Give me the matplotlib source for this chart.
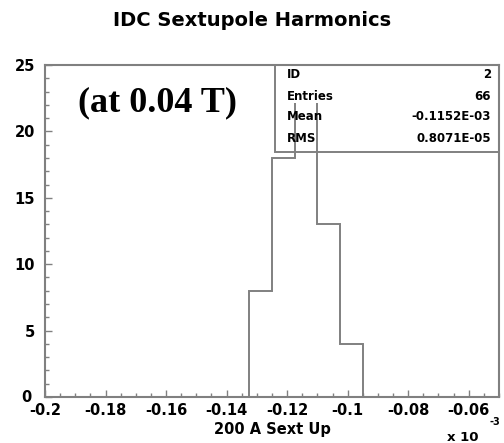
import matplotlib
matplotlib.use('Agg')
import matplotlib.pyplot as plt
import matplotlib.transforms as mtransforms
import numpy as np
from matplotlib.patches import Rectangle

# histogram data (x in units of 1e-3)
bin_edges = [-0.1325, -0.125, -0.1175, -0.11, -0.1025, -0.095]
counts = [8, 18, 23, 13, 4]

x_ticks = [-0.2, -0.18, -0.16, -0.14, -0.12, -0.1, -0.08, -0.06]
x_tick_labels = ['-0.2', '-0.18', '-0.16', '-0.14', '-0.12', '-0.1', '-0.08', '-0.06']
y_ticks = [0, 5, 10, 15, 20, 25]
y_tick_labels = ['0', '5', '10', '15', '20', '25']

stats_names = ['ID', 'Entries', 'Mean', 'RMS']
stats_values = ['2', '66', '-0.1152E-03', '0.8071E-05']

plt.rcParams['font.family'] = ['DejaVu Sans']
line_col = '#808080'

fig = plt.figure(figsize=(5.04, 4.43), dpi=100)
ax = fig.add_axes([45 / 504, 46 / 443, 454 / 504, 332 / 443])

ax.stairs(counts, bin_edges, color=line_col, linewidth=1.4)

ax.set_xlim(-0.2, -0.05)
ax.set_ylim(0, 25)
ax.set_xticks(x_ticks)
ax.set_xticklabels(x_tick_labels)
ax.set_yticks(y_ticks)
ax.set_yticklabels(y_tick_labels)
ax.set_xticks(np.arange(-0.2, -0.049, 0.005), minor=True)
ax.set_yticks(np.arange(0, 25.1, 1), minor=True)
ax.tick_params(which='both', direction='in', top=False, right=False,
               color=line_col, labelsize=10.5)
ax.tick_params(which='major', length=5, width=1)
ax.tick_params(which='minor', length=3, width=1)
ax.tick_params(axis='x', pad=4.5)
ax.tick_params(axis='y', pad=7)
for lab in ax.get_xticklabels() + ax.get_yticklabels():
    lab.set_fontweight('bold')
# the "0" of the y axis sits a little further left
zero_lab = ax.get_yticklabels()[0]
zero_lab.set_transform(zero_lab.get_transform() +
                       mtransforms.ScaledTranslation(-4 / 100, 1 / 100, fig.dpi_scale_trans))
for s in ax.spines.values():
    s.set_color(line_col)
    s.set_linewidth(1.5)

ax.set_xlabel('200 A Sext Up', fontsize=10.5, fontweight='bold', labelpad=3)
fig.text(447 / 504, 1 - 431 / 443, 'x 10', fontsize=9.5, fontweight='bold',
         ha='left', va='top')
fig.text(489 / 504, 1 - 422 / 443, '-3', fontsize=7, fontweight='bold',
         ha='left', va='center')

fig.text(0.5, 1 - 21 / 443, 'IDC Sextupole Harmonics', fontsize=14,
         fontweight='bold', ha='center', va='center')

ax.text(0.073, 0.885, '(at 0.04 T)', transform=ax.transAxes, fontsize=26,
        fontweight='bold', family=['Liberation Serif', 'DejaVu Serif'],
        ha='left', va='center')

# statistics box
box_x0 = (275 - 45) / 454
box_y0 = (397 - 152) / 332
ax.add_patch(Rectangle((box_x0, box_y0), 1 - box_x0, 1 - box_y0,
                       transform=ax.transAxes, fill=False,
                       edgecolor=line_col, linewidth=1.4, clip_on=False))
row_y = [75, 96, 117, 138]
for name, val, y in zip(stats_names, stats_values, row_y):
    yy = (397 - y) / 332
    bg = dict(facecolor='white', edgecolor='none', pad=0.3) if name == 'Entries' else None
    ax.text((287 - 45) / 454, yy, name, transform=ax.transAxes,
            fontsize=8.5, fontweight='bold', ha='left', va='center', zorder=5,
            bbox=bg)
    ax.text((491 - 45) / 454, yy, val, transform=ax.transAxes,
            fontsize=8.5, fontweight='bold', ha='right', va='center', zorder=5)

fig.savefig('out.png', dpi=100)
